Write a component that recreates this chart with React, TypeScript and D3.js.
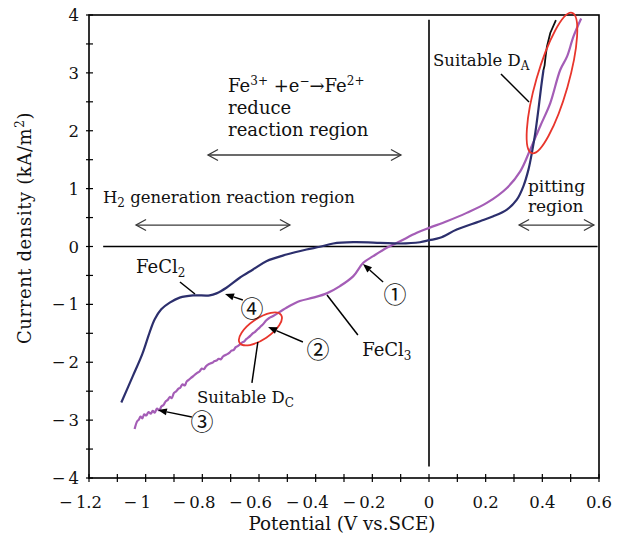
import React from "react";
import * as d3 from "d3";

// Data (Potential V vs. SCE, Current density kA/m^2)
const fecl2X = [-1.086, -1.045, -1.012, -0.986, -0.968, -0.945, -0.915, -0.880, -0.833, -0.774, -0.750, -0.715, -0.668, -0.621, -0.574, -0.503, -0.432, -0.385, -0.338, -0.267, -0.173, -0.102, -0.032, 0.001, 0.039, 0.098, 0.180, 0.227, 0.275, 0.310, 0.333, 0.351, 0.363, 0.375, 0.386, 0.396, 0.404];
const fecl2Y = [-2.695, -2.236, -1.860, -1.483, -1.259, -1.086, -0.971, -0.884, -0.845, -0.845, -0.810, -0.712, -0.540, -0.397, -0.253, -0.138, -0.052, -0.005, 0.052, 0.074, 0.064, 0.052, 0.074, 0.109, 0.150, 0.293, 0.436, 0.522, 0.638, 0.810, 1.040, 1.328, 1.616, 1.960, 2.362, 2.764, 3.050];
const fecl2TopX = [0.404, 0.408, 0.410, 0.412, 0.416, 0.428, 0.448];
const fecl2TopY = [3.050, 3.130, 3.220, 3.300, 3.450, 3.690, 3.910];

const fecl3X = [-1.039, -1.030, -1.024, -1.018, -1.012, -1.005, -0.998, -0.990, -0.982, -0.975, -0.968, -0.960, -0.952, -0.944, -0.937, -0.930, -0.922, -0.915, -0.908, -0.900, -0.892, -0.885, -0.878, -0.870, -0.862, -0.855, -0.847, -0.840, -0.832, -0.825, -0.817, -0.810, -0.802, -0.795, -0.787, -0.780, -0.772, -0.765, -0.757, -0.750, -0.742, -0.735, -0.727, -0.720, -0.712, -0.705, -0.697, -0.690, -0.682, -0.675, -0.667, -0.660, -0.652, -0.645, -0.637, -0.630, -0.622, -0.615, -0.607, -0.600, -0.592, -0.585, -0.575, -0.565, -0.550, -0.503, -0.456, -0.409, -0.361, -0.314, -0.267, -0.232, -0.197, -0.149, -0.102, -0.043, 0.001, 0.063, 0.133, 0.204, 0.275, 0.322, 0.357, 0.392, 0.428, 0.463, 0.487, 0.510, 0.537];
const fecl3Y = [-3.155, -3.020, -2.990, -2.940, -2.970, -2.900, -2.920, -2.860, -2.890, -2.840, -2.870, -2.800, -2.830, -2.760, -2.740, -2.680, -2.650, -2.600, -2.620, -2.530, -2.500, -2.460, -2.440, -2.380, -2.400, -2.330, -2.300, -2.270, -2.240, -2.210, -2.180, -2.160, -2.110, -2.120, -2.070, -2.040, -2.020, -2.010, -1.980, -1.970, -1.940, -1.950, -1.900, -1.880, -1.860, -1.840, -1.800, -1.790, -1.740, -1.720, -1.690, -1.660, -1.640, -1.600, -1.570, -1.540, -1.500, -1.480, -1.440, -1.410, -1.370, -1.340, -1.280, -1.240, -1.200, -1.057, -0.943, -0.884, -0.810, -0.684, -0.512, -0.281, -0.167, -0.022, 0.091, 0.236, 0.322, 0.436, 0.581, 0.753, 1.012, 1.298, 1.672, 2.074, 2.478, 3.050, 3.280, 3.630, 3.940];

const xTicks = [-1.2, -1, -0.8, -0.6, -0.4, -0.2, 0, 0.2, 0.4, 0.6];
const yTicks = [-4, -3, -2, -1, 0, 1, 2, 3, 4];

const W = 629, H = 537;
const serif = "'DejaVu Serif', serif";
const navy = "#2c2f6d";
const purple = "#a45db6";
const red = "#e8352c";

export default function App() {
  const x = d3.scaleLinear().domain([-1.2, 0.6]).range([89, 599]);
  const y = d3.scaleLinear().domain([-4, 4]).range([478, 15]);
  const line = d3.line<[number, number]>().x(d => x(d[0])).y(d => y(d[1])).curve(d3.curveLinear);
  const smooth = d3.line<[number, number]>().x(d => x(d[0])).y(d => y(d[1])).curve(d3.curveCatmullRom.alpha(0.5));
  const z = (xs: number[], ys: number[]) => xs.map((v, i) => [v, ys[i]] as [number, number]);

  const minorX = d3.range(-12, 7).map(v => v / 10);
  const minorY = d3.range(-8, 9).map(v => v / 2);

  const fmtNum = (v: number) => String(Math.abs(v));
  const numW = (s: string, fs: number) => s.split("").reduce((a, c) => a + (c === "." ? 0.318 : 0.636), 0) * fs;
  const tfs = 16.5;

  const arrowTo = (x1: number, y1: number, x2: number, y2: number, key: string) => {
    const px1 = x(x1), py1 = y(y1), px2 = x(x2), py2 = y(y2);
    const ang = Math.atan2(py2 - py1, px2 - px1);
    const L = 9, Wd = 3.5;
    const bx = px2 - L * Math.cos(ang), by = py2 - L * Math.sin(ang);
    const p1 = [bx + Wd * Math.sin(ang), by - Wd * Math.cos(ang)];
    const p2 = [bx - Wd * Math.sin(ang), by + Wd * Math.cos(ang)];
    return (
      <g key={key}>
        <line x1={px1} y1={py1} x2={bx} y2={by} stroke="#000" strokeWidth={1.4} />
        <polygon points={`${px2},${py2} ${p1[0]},${p1[1]} ${p2[0]},${p2[1]}`} fill="#000" />
      </g>
    );
  };

  const dblArrow = (x1: number, x2: number, yy: number, key: string) => {
    const a = x(x1), b = x(x2), c = y(yy);
    return (
      <g key={key} stroke="#3a3a3a" strokeWidth={1.3} fill="none">
        <line x1={a} y1={c} x2={b} y2={c} />
        <polyline points={`${a + 10},${c - 5.5} ${a},${c} ${a + 10},${c + 5.5}`} />
        <polyline points={`${b - 10},${c - 5.5} ${b},${c} ${b - 10},${c + 5.5}`} />
      </g>
    );
  };

  const leader = (x1: number, y1: number, x2: number, y2: number, key: string) => (
    <line key={key} x1={x(x1)} y1={y(y1)} x2={x(x2)} y2={y(y2)} stroke="#000" strokeWidth={1.5} />
  );

  const circled = (ch: string, cx: number, cy: number, key: string) => (
    <text key={key} x={x(cx)} y={y(cy)} textAnchor="middle" dominantBaseline="central"
      fontFamily="'Noto Sans CJK JP', sans-serif" fontSize={23} fill="#111">{ch}</text>
  );

  const sub = (s: string, fs = 12) => (
    <tspan fontSize={fs} dy={4}>{s}</tspan>
  );

  return (
    <div style={{ position: "absolute", left: 0, top: 0 }}>
      <svg width={W} height={H} style={{ display: "block", background: "#fff" }}>
        {/* frame */}
        <rect x={x(-1.2)} y={y(4)} width={x(0.6) - x(-1.2)} height={y(-4) - y(4)} fill="none" stroke="#000" strokeWidth={1.6} />
        {/* ticks */}
        {minorX.map(v => (
          <line key={"xt" + v} x1={x(v)} x2={x(v)} y1={y(-4) - 4} y2={y(-4) + 4} stroke="#000" strokeWidth={1.2} />
        ))}
        {minorY.map(v => (
          <line key={"yt" + v} x1={x(-1.2) - 3} x2={x(-1.2) + 4} y1={y(v)} y2={y(v)} stroke="#000" strokeWidth={1.2} />
        ))}
        {/* x tick labels */}
        {xTicks.map(v => {
          const s = fmtNum(v);
          const w = numW(s, tfs);
          return (
            <g key={"xl" + v} fontFamily={serif} fontSize={tfs} fill="#111">
              <text x={x(v)} y={508} textAnchor="middle">{s}</text>
              {v < 0 && <text x={x(v) - w / 2 - 3} y={508} textAnchor="end">−</text>}
            </g>
          );
        })}
        {/* y tick labels */}
        {yTicks.map(v => {
          const s = fmtNum(v);
          const w = numW(s, tfs);
          return (
            <g key={"yl" + v} fontFamily={serif} fontSize={tfs} fill="#111">
              <text x={79} y={y(v) + 6} textAnchor="end">{s}</text>
              {v < 0 && <text x={79 - w - 3} y={y(v) + 6} textAnchor="end">−</text>}
            </g>
          );
        })}
        {/* zero lines */}
        <line x1={x(-1.15)} x2={x(0.595)} y1={y(0)} y2={y(0)} stroke="#000" strokeWidth={1.6} />
        <line x1={x(0)} x2={x(0)} y1={y(3.92)} y2={y(-3.8)} stroke="#000" strokeWidth={1.6} />

        {/* curves */}
        <path d={smooth(z(fecl3X, fecl3Y)) || ""} fill="none" stroke={purple} strokeWidth={2.2} strokeLinejoin="round" />
        <path d={smooth(z(fecl2X, fecl2Y)) || ""} fill="none" stroke={navy} strokeWidth={2.2} strokeLinejoin="round" />
        <path d={line(z(fecl2TopX, fecl2TopY)) || ""} fill="none" stroke="#111" strokeWidth={1.8} />

        {/* ellipses */}
        <ellipse cx={x(0.434)} cy={y(2.825)} rx={16} ry={73} fill="none" stroke={red} strokeWidth={1.8}
          transform={`rotate(16 ${x(0.434)} ${y(2.825)})`} />
        <ellipse cx={x(-0.595)} cy={y(-1.425)} rx={25} ry={10.5} fill="none" stroke={red} strokeWidth={1.8}
          transform={`rotate(-34 ${x(-0.595)} ${y(-1.425)})`} />

        {/* annotations */}
        <g fontFamily={serif} fill="#111">
          <g fontSize={18}>
            <text x={x(-0.709)} y={y(2.668)}>
              Fe<tspan fontSize={12} dy={-7}>3+</tspan>
              <tspan dy={7}> +e</tspan><tspan fontSize={12} dy={-7}>−</tspan>
              <tspan dy={7}>→Fe</tspan><tspan fontSize={12} dy={-7}>2+</tspan>
            </text>
            <text x={x(-0.709)} y={y(2.289)}>reduce</text>
            <text x={x(-0.709)} y={y(1.909)}>reaction region</text>
            <text x={x(-1.034)} y={y(-0.458)}>FeCl{sub("2")}</text>
            <text x={x(-0.236)} y={y(-1.892)}>FeCl{sub("3")}</text>
          </g>
          <g fontSize={16.5}>
            <text x={x(-1.151)} y={y(0.752)}>H{sub("2")}<tspan dy={-4}> generation reaction region</tspan></text>
            <text x={x(0.014)} y={y(3.119)}>Suitable D{sub("A")}</text>
            <text x={x(-0.819)} y={y(-2.704)}>Suitable D{sub("C")}</text>
          </g>
          <g fontSize={17}>
            <text x={x(0.349)} y={y(0.935)}>pitting</text>
            <text x={x(0.349)} y={y(0.590)}>region</text>
          </g>
        </g>
        {dblArrow(-0.780, -0.099, 1.581, "a1")}
        {dblArrow(-1.034, -0.491, 0.371, "a2")}
        {dblArrow(0.318, 0.582, 0.371, "a3")}
        {leader(0.254, 2.981, 0.353, 2.497, "l1")}
        {leader(-0.879, -0.613, -0.826, -0.821, "l2")}
        {leader(-0.360, -0.838, -0.251, -1.529, "l3")}
        {leader(-0.604, -1.650, -0.625, -2.358, "l4")}
        {arrowTo(-0.657, -0.924, -0.720, -0.821, "r4")}
        {arrowTo(-0.162, -0.613, -0.233, -0.302, "r1")}
        {arrowTo(-0.445, -1.650, -0.568, -1.391, "r2")}
        {arrowTo(-0.837, -2.946, -0.957, -2.825, "r3")}
        {circled("④", -0.625, -1.045, "c4")}
        {circled("①", -0.120, -0.803, "c1")}
        {circled("②", -0.392, -1.754, "c2")}
        {circled("③", -0.801, -2.998, "c3")}

        {/* axis titles */}
        <text x={342} y={530} textAnchor="middle" fontFamily={serif} fontSize={18.3} fill="#111">Potential (V vs.SCE)</text>
        <text transform={`translate(31, 228) rotate(-90)`} textAnchor="middle" fontFamily={serif} fontSize={18} fill="#111" letterSpacing={0.6}>
          Current density (kA/m<tspan fontSize={12} dy={-7}>2</tspan><tspan dy={7}>)</tspan>
        </text>
      </svg>
    </div>
  );
}
